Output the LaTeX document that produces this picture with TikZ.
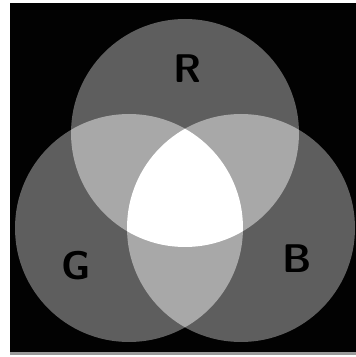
\documentclass[tikz,border=0pt]{standalone}
\usetikzlibrary{positioning}
\definecolor{cBg}{HTML}{020202}
\definecolor{cOne}{HTML}{5E5E5E}
\definecolor{cTwo}{HTML}{A8A8A8}
\definecolor{cAll}{HTML}{FFFFFF}
\definecolor{cRule}{HTML}{9A9A9A}
\tikzset{
  lbl/.style={font=\fontsize{40}{40}\selectfont\sffamily\bfseries, text=black, inner sep=0pt},
}
\begin{document}
\begin{tikzpicture}[x=1pt, y=1pt]
    \def\R{114}
    \useasboundingbox (0,0) rectangle (356,357);
    \fill[white] (0,0) rectangle (356,357);
    \fill[cRule] (10,2) rectangle (356,5);
    \fill[cBg] (10,5) rectangle (356,354);
    \coordinate (cR) at (185,224);
    \coordinate (cG) at (129,129);
    \coordinate (cB) at (241,129);
    \foreach \ctr in {cR,cG,cB}
      \fill[cOne] (\ctr) circle (\R);
    % pairwise overlaps
    \begin{scope}
      \clip (cR) circle (\R);
      \fill[cTwo] (cG) circle (\R);
      \fill[cTwo] (cB) circle (\R);
    \end{scope}
    \begin{scope}
      \clip (cG) circle (\R);
      \fill[cTwo] (cB) circle (\R);
      \clip (cB) circle (\R);
      \fill[cAll] (cR) circle (\R);
    \end{scope}
    \node[lbl] (labR) at (188,288) {R};
    \node[lbl] (labG) at (76,91) {G};
    \node[lbl] (labB) at (297,98) {B};
  \end{tikzpicture}
\end{document}
